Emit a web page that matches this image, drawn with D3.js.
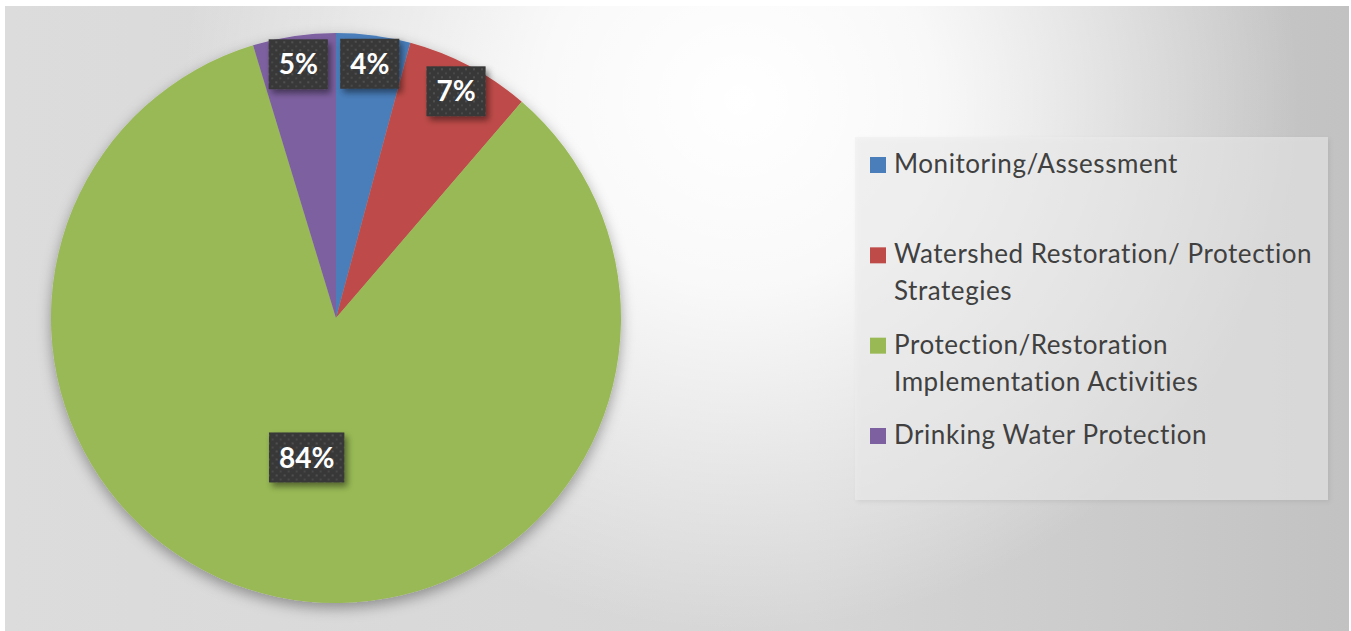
<!DOCTYPE html>
<html>
<head>
<meta charset="utf-8">
<script src="https://cdn.jsdelivr.net/npm/d3@7"></script>
<style>
  html, body { margin: 0; padding: 0; background: #ffffff; }
  svg { display: block; }
</style>
</head>
<body>
<div id="chart"></div>
<script>
const categories = [
  "Monitoring/Assessment",
  "Watershed Restoration/ Protection Strategies",
  "Protection/Restoration Implementation Activities",
  "Drinking Water Protection"
];
const shares = [4.2, 7.1, 84.0, 4.7];
const sliceColors = ["#4a7ebb", "#be4b48", "#98b954", "#7d60a0"];

const W = 1351, H = 631;
const frame = { x: 5, y: 6, w: 1344, h: 625 };
const cx = 336, cy = 318, radius = 285;

const svg = d3.select("#chart").append("svg")
  .attr("width", W)
  .attr("height", H);

const defs = svg.append("defs");

// background: left-to-right grey plus a soft white glow near the top middle
const lin = defs.append("linearGradient").attr("id", "bgLin")
  .attr("x1", 0).attr("y1", 0).attr("x2", 1).attr("y2", 0);
lin.append("stop").attr("offset", 0).attr("stop-color", "#dcdcdc");
lin.append("stop").attr("offset", 0.6).attr("stop-color", "#d6d6d6");
lin.append("stop").attr("offset", 1).attr("stop-color", "#c2c2c2");

const glow = defs.append("radialGradient").attr("id", "bgGlow")
  .attr("gradientUnits", "userSpaceOnUse")
  .attr("cx", 740).attr("cy", 100).attr("r", 560)
  .attr("gradientTransform", "translate(740,100) scale(1,0.95) translate(-740,-100)");
glow.append("stop").attr("offset", 0).attr("stop-color", "#ffffff").attr("stop-opacity", 1);
glow.append("stop").attr("offset", 0.35).attr("stop-color", "#ffffff").attr("stop-opacity", 0.85);
glow.append("stop").attr("offset", 1).attr("stop-color", "#ffffff").attr("stop-opacity", 0);

// shadows
const pieShadow = defs.append("filter").attr("id", "pieShadow")
  .attr("x", "-10%").attr("y", "-10%").attr("width", "120%").attr("height", "125%");
pieShadow.append("feDropShadow")
  .attr("dx", 0).attr("dy", 5).attr("stdDeviation", 7)
  .attr("flood-color", "#000").attr("flood-opacity", 0.35);

const boxShadow = defs.append("filter").attr("id", "boxShadow")
  .attr("x", "-20%").attr("y", "-20%").attr("width", "150%").attr("height", "160%");
boxShadow.append("feDropShadow")
  .attr("dx", 3).attr("dy", 4).attr("stdDeviation", 3)
  .attr("flood-color", "#000").attr("flood-opacity", 0.45);

const legendShadow = defs.append("filter").attr("id", "legendShadow")
  .attr("x", "-5%").attr("y", "-5%").attr("width", "112%").attr("height", "115%");
legendShadow.append("feDropShadow")
  .attr("dx", 2).attr("dy", 2).attr("stdDeviation", 2)
  .attr("flood-color", "#000").attr("flood-opacity", 0.12);

// dotted texture for the label boxes
const dots = defs.append("pattern").attr("id", "dots")
  .attr("patternUnits", "userSpaceOnUse")
  .attr("width", 8).attr("height", 8);
dots.append("rect").attr("width", 8).attr("height", 8).attr("fill", "#383838");
dots.append("circle").attr("cx", 2).attr("cy", 2).attr("r", 1.1).attr("fill", "#555555");
dots.append("circle").attr("cx", 6).attr("cy", 6).attr("r", 1.1).attr("fill", "#4c4c4c");

svg.append("rect")
  .attr("x", frame.x).attr("y", frame.y)
  .attr("width", frame.w).attr("height", frame.h)
  .attr("fill", "url(#bgLin)");
svg.append("rect")
  .attr("x", frame.x).attr("y", frame.y)
  .attr("width", frame.w).attr("height", frame.h)
  .attr("fill", "url(#bgGlow)");

// pie
const pie = d3.pie().sort(null).value(d => d)(shares);
const arc = d3.arc().innerRadius(0).outerRadius(radius);

const pieG = svg.append("g")
  .attr("transform", `translate(${cx},${cy})`);

pieG.append("g")
  .attr("filter", "url(#pieShadow)")
  .selectAll("path")
  .data(pie)
  .enter()
  .append("path")
  .attr("d", arc)
  .attr("fill", (d, i) => sliceColors[i]);

// data labels: small slices near the rim, the big one half way in
const labelFont = "Lato, 'Open Sans', sans-serif";
const labels = pieG.selectAll(".slice-label")
  .data(pie)
  .enter()
  .append("g")
  .attr("class", "slice-label")
  .attr("transform", d => {
    const r = (d.endAngle - d.startAngle) > Math.PI ? radius * 0.5 : radius * 0.9;
    const a = (d.startAngle + d.endAngle) / 2;
    return `translate(${r * Math.sin(a)},${-r * Math.cos(a)})`;
  });

labels.append("rect")
  .attr("fill", "url(#dots)")
  .attr("filter", "url(#boxShadow)");

const labelTexts = labels.append("text")
  .attr("text-anchor", "middle")
  .attr("dy", "0.36em")
  .attr("fill", "#ffffff")
  .style("font-family", labelFont)
  .style("font-weight", "bold")
  .style("font-size", "28px")
  .text(d => Math.round(d.data) + "%");

labelTexts.each(function() {
  const w = this.getComputedTextLength();
  d3.select(this.previousSibling)
    .attr("x", -w / 2 - 10)
    .attr("y", -25)
    .attr("width", w + 20)
    .attr("height", 50);
});

// legend
const legendBox = { x: 855, y: 137, w: 473, h: 363 };
svg.append("rect")
  .attr("x", legendBox.x).attr("y", legendBox.y)
  .attr("width", legendBox.w).attr("height", legendBox.h)
  .attr("fill", "#ececec")
  .attr("fill-opacity", 0.55)
  .attr("filter", "url(#legendShadow)");

const legendY = d3.scaleLinear().domain([0, categories.length - 1]).range([173, 444]);
const lineHeight = 37;
const legendFontSize = 26;

const legend = svg.append("g").attr("class", "legend")
  .selectAll(".legend-item")
  .data(categories)
  .enter()
  .append("g")
  .attr("class", "legend-item")
  .attr("transform", (d, i) => `translate(870,${legendY(i)})`);

legend.append("rect")
  .attr("x", 0)
  .attr("y", -16)
  .attr("width", 16)
  .attr("height", 16)
  .attr("fill", (d, i) => sliceColors[i]);

legend.append("text")
  .attr("x", 24)
  .attr("fill", "#404040")
  .style("font-family", "Lato, 'Open Sans', sans-serif")
  .style("font-size", legendFontSize + "px")
  .style("letter-spacing", "0.55px")
  .each(function(d) {
    // wrap words to the legend width
    const text = d3.select(this);
    const words = d.split(" ");
    let line = [];
    let lineNo = 0;
    let tspan = text.append("tspan").attr("x", 24).attr("y", 0);
    words.forEach(w => {
      line.push(w);
      tspan.text(line.join(" "));
      if (tspan.node().getComputedTextLength() > 440 && line.length > 1) {
        line.pop();
        tspan.text(line.join(" "));
        line = [w];
        lineNo++;
        tspan = text.append("tspan").attr("x", 24).attr("y", lineNo * lineHeight).text(w);
      }
    });
  });
</script>
</body>
</html>
